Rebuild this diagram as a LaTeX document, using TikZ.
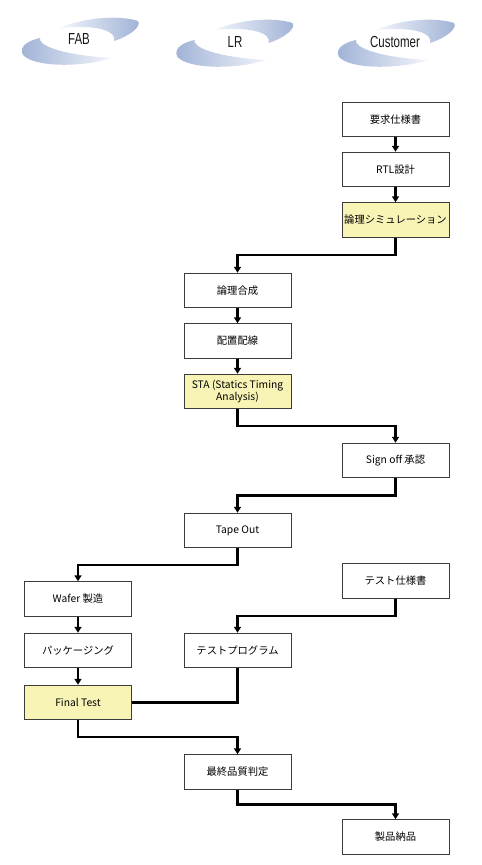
\documentclass[tikz,border=0pt]{standalone}
\usepackage{fontspec}
\setmainfont{Noto Sans CJK JP}
\newfontfamily\hdr[FakeStretch=0.72]{Liberation Sans}
\usetikzlibrary{arrows.meta,calc}
\definecolor{bordc}{RGB}{60,60,60}
\definecolor{yel}{RGB}{248,244,182}
\definecolor{swb}{RGB}{158,177,213}
\definecolor{swl}{RGB}{242,245,251}
\begin{document}
\begin{tikzpicture}[x=1pt,y=-1pt,
  box/.style={draw=bordc,line width=1pt,fill=white,minimum width=107pt,minimum height=34.5pt,inner sep=0pt,font=\fontsize{10.3}{12.5}\selectfont,align=center},
  hl/.style={box,fill=yel},
  conn/.style={line width=2.2pt,-{Triangle[length=6pt,width=7pt]}},
  plainconn/.style={line width=2.2pt},
  hdrtext/.style={font=\hdr\fontsize{16}{16}\selectfont,text=black!90},
  swoosh/.pic={
    \shade[left color=swl,right color=swb] (-20,-12) .. controls (5,-23) and (40,-25) .. (58,-19) .. controls (62,-14) and (50,-4) .. (34,1) .. controls (37,-8) and (20,-16) .. (-20,-12) -- cycle;
    \shade[left color=swb,right color=swl] (32,18) .. controls (5,27) and (-45,28) .. (-57,15) .. controls (-62,6) and (-50,0) .. (-40,-2) .. controls (-42,5) and (-20,15) .. (32,18) -- cycle;
  }]
\useasboundingbox (0,0) rectangle (482,865);
% header swooshes
\pic at (80,40) {swoosh};
\pic at (234.5,42) {swoosh};
\pic at (396,42) {swoosh};
\node[hdrtext] (fab) at (79,39) {FAB};
\node[hdrtext] (lr) at (235,42) {LR};
\node[hdrtext] (cus) at (395,42) {Customer};
% boxes
\node[box] (req) at (395.5,119.5) {要求仕様書};
\node[box] (rtl) at (395.5,169.5) {RTL設計};
\node[hl] (sim) at (395.5,220) {論理シミュレーション};
\node[box] (syn) at (237.5,290.5) {論理合成};
\node[box] (pr) at (237.5,341) {配置配線};
\node[hl] (sta) at (237.5,391.5) {STA (Statics Timing\\Analysis)};
\node[box] (sign) at (395.5,460.5) {Sign off 承認};
\node[box] (tape) at (237.5,530.5) {Tape Out};
\node[box] (tspec) at (395.5,581) {テスト仕様書};
\node[box] (wafer) at (78,599) {Wafer 製造};
\node[box] (pkg) at (78,650.5) {パッケージング};
\node[box] (tprog) at (237.5,650.5) {テストプログラム};
\node[hl] (ft) at (78,702.5) {Final Test};
\node[box] (qa) at (237.5,772) {最終品質判定};
\node[box] (ship) at (395.5,837) {製品納品};
% connectors
\draw[conn] (req.south) -- (rtl.north);
\draw[conn] (rtl.south) -- (sim.north);
\draw[conn] (sim.south) |- ($(sim.south)!0.5!(syn.north)$) -| (syn.north);
\draw[conn] (syn.south) -- (pr.north);
\draw[conn] (pr.south) -- (sta.north);
\draw[conn] (sta.south) |- ($(sta.south)!0.5!(sign.north)$) -| (sign.north);
\draw[conn] (sign.south) |- ($(sign.south)!0.5!(tape.north)$) -| (tape.north);
\draw[conn] (tape.south) |- ($(tape.south)!0.5!(wafer.north)$) -| (wafer.north);
\draw[conn] (tspec.south) |- ($(tspec.south)!0.5!(tprog.north)$) -| (tprog.north);
\draw[conn] (wafer.south) -- (pkg.north);
\draw[conn] (pkg.south) -- (ft.north);
\draw[plainconn] (tprog.south) |- (ft.east);
\draw[conn] (ft.south) |- ($(ft.south)!0.5!(qa.north)$) -| (qa.north);
\draw[conn] (qa.south) |- ($(qa.south)!0.5!(ship.north)$) -| (ship.north);
\end{tikzpicture}
\end{document}
